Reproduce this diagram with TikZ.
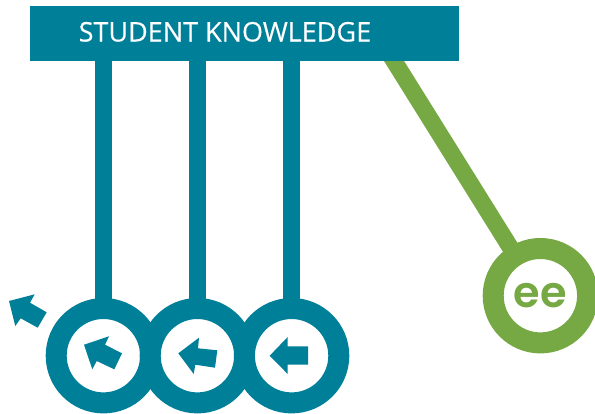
\documentclass[tikz,border=0pt]{standalone}
\usepackage{fontspec}
\setmainfont[FakeBold=0.25]{Open Sans}
\newfontfamily\eefont{Poppins SemiBold}
\usetikzlibrary{backgrounds}
\definecolor{tealc}{RGB}{0,127,153}
\definecolor{greenc}{RGB}{118,168,67}
\tikzset{
  x=1pt,y=-1pt,
  banner/.style={fill=tealc,inner sep=0pt,outer sep=0pt,minimum width=429pt,minimum height=55pt},
  title/.style={text=white,inner sep=0pt,font=\fontsize{27}{30}\selectfont,anchor=base west},
  tball/.style={circle,draw=tealc,fill=white,line width=21pt,minimum size=94.4pt,inner sep=0pt,outer sep=0pt},
  gball/.style={tball,draw=greenc},
  rod/.style={line width=17pt,draw=tealc},
  grod/.style={line width=17pt,draw=greenc},
  arrowhd/.style={fill=tealc}
}
\begin{document}
\begin{tikzpicture}
\useasboundingbox (0,0) rectangle (595,413);
\node[banner] (bar) at (244.5,33.5) {};
\node[title] (label) at (78.5,41.5) {STUDENT KNOWLEDGE};
\node[tball] (b1) at (103.4,355.7) {};
\node[tball] (b2) at (197.4,355.7) {};
\node[tball] (b3) at (291.6,355.7) {};
\node[gball] (g) at (540.4,295.7) {};
\node[text=greenc,inner sep=0pt,font=\eefont\fontsize{43}{44}\selectfont] (ee) at (540.4,296) {ee};
\coordinate (gtop) at (387.8,51);
\begin{scope}[on background layer]
\draw[rod] (bar.south -| b1) -- (b1);
\draw[rod] (bar.south -| b2) -- (b2);
\draw[rod] (bar.south -| b3) -- (b3);
\draw[grod] (gtop) -- (g);
\end{scope}
% arrows
\fill[arrowhd] (9,301) -- (34.7,294.3) -- (30,302.7) -- (46.7,312.3) -- (37.7,327.7) -- (20.7,318.3) -- (15.3,326) -- cycle;
\fill[arrowhd] (84,344.7) -- (109,336.3) -- (105,344.7) -- (122,353.3) -- (114.3,369.3) -- (96.7,361) -- (92.3,369.3) -- cycle;
\fill[arrowhd] (178.3,353.3) -- (199,337.7) -- (198,348.3) -- (217.3,350.3) -- (215,367.7) -- (195.3,364.7) -- (193.7,374) -- cycle;
\fill[arrowhd] (269.7,355.7) -- (287.7,337) -- (287.7,346.3) -- (308,346.3) -- (308,364.7) -- (287.7,364.7) -- (287.7,374) -- cycle;
\end{tikzpicture}
\end{document}
